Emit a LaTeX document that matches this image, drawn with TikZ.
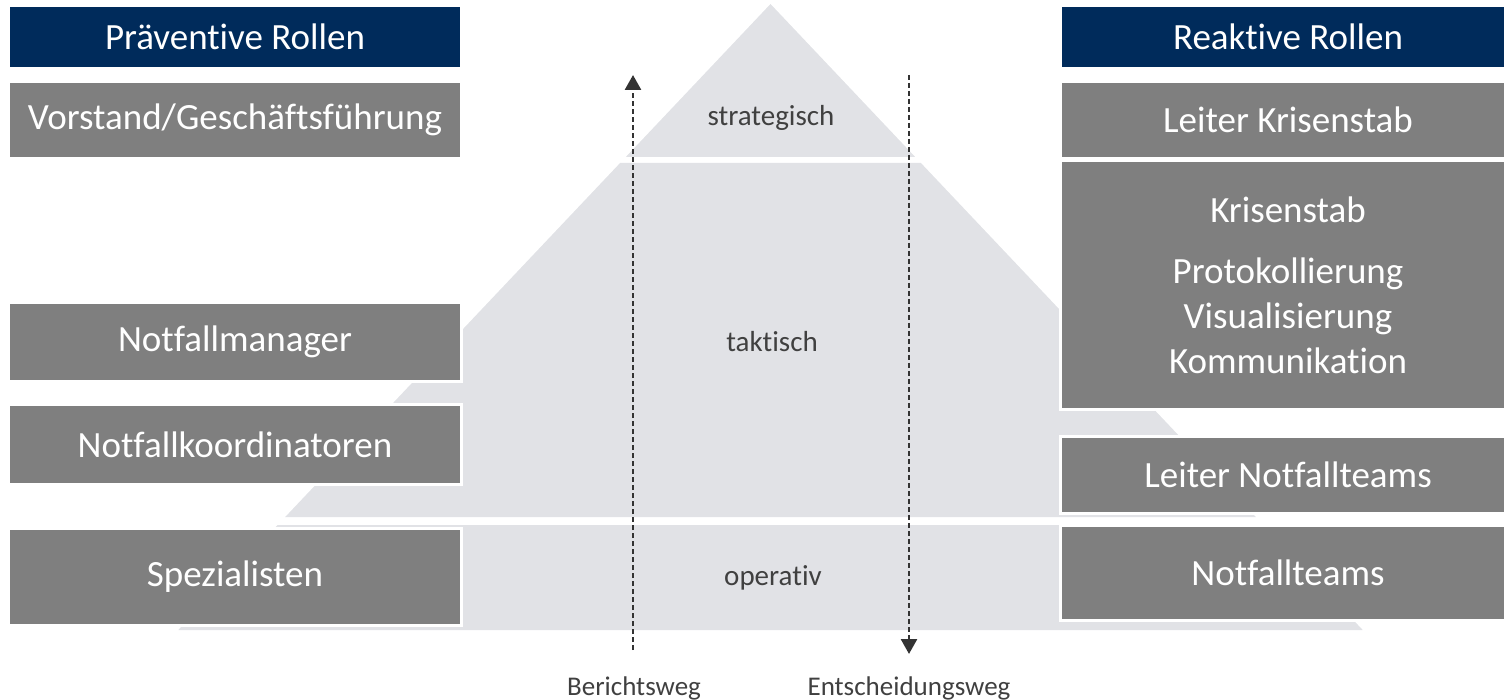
\documentclass[tikz,border=0pt]{standalone}
\usepackage{fontspec}
\setmainfont{Carlito}[Ligatures={NoCommon,NoRare}]
\usetikzlibrary{arrows.meta}
\definecolor{headnavy}{HTML}{002B5B}
\definecolor{boxgray}{HTML}{7F7F7F}
\definecolor{layergray}{HTML}{E1E2E6}
\definecolor{labeldark}{HTML}{404040}
\definecolor{flowdark}{HTML}{333333}

\begin{document}
\begin{tikzpicture}[
  x=1pt,y=-1pt,
  every node/.style={font=\fontsize{37}{45}\selectfont},
  rolehead/.style={fill=headnavy,text=white,draw=white,line width=3pt,
    minimum height=63pt,inner sep=0pt},
  rolebox/.style={fill=boxgray,text=white,draw=white,line width=3pt,
    inner sep=0pt,align=center},
  leftcol/.style={minimum width=453pt},
  rightcol/.style={minimum width=455pt},
  layer/.style={fill=layergray},
  lvl/.style={font=\fontsize{29}{34}\selectfont,text=labeldark},
  waylbl/.style={font=\fontsize{27}{32}\selectfont,text=labeldark},
  flow/.style={flowdark,line width=2.6pt,dash pattern=on 5pt off 3pt,
    -{Triangle[length=15pt,width=16pt]}}
]

% ---- canvas ----
\useasboundingbox (0,0) rectangle (1504,700);

% ---- pyramid layers ----
\fill[layer] (770.5,4) -- (915.2,157) -- (625.8,157) -- cycle;
\fill[layer] (620.1,163) -- (920.9,163) -- (1255.8,517) -- (285.2,517) -- cycle;
\fill[layer] (277.6,525) -- (1263.4,525) -- (1362.7,630) -- (178.3,630) -- cycle;

\node[lvl] (strat) at (771,118) {strategisch};
\node[lvl] (takt) at (772,342) {taktisch};
\node[lvl] (oper) at (773,578) {operativ};

% ---- preventive roles (left) ----
\node[rolehead,leftcol] (prevhead) at (235,37) {Präventive Rollen};
\node[rolebox,leftcol,minimum height=77pt] (board) at (235,120) {Vorstand/Geschäftsführung};
\node[rolebox,leftcol,minimum height=79pt] (manager) at (235,342) {Notfallmanager};
\node[rolebox,leftcol,minimum height=80pt] (coord) at (235,444.5) {Notfallkoordinatoren};
\node[rolebox,leftcol,minimum height=97pt] (special) at (235,577) {Spezialisten};

% ---- reactive roles (right) ----
\node[rolehead,rightcol] (reacthead) at (1288,37) {Reaktive Rollen};
\node[rolebox,rightcol,minimum height=77pt] (crisislead) at (1288,120) {Leiter Krisenstab};
\node[rolebox,rightcol,minimum height=249pt] (crisis) at (1288,285)
  {Krisenstab\\[16pt] Protokollierung\\ Visualisierung\\ Kommunikation};
\node[rolebox,rightcol,minimum height=77pt] (teamlead) at (1288,475) {Leiter Notfallteams};
\node[rolebox,rightcol,minimum height=95pt] (teams) at (1288,573) {Notfallteams};

% ---- reporting and decision paths ----
\coordinate (repfoot) at (633,650);
\coordinate (reptop) at (633,75);
\coordinate (dectop) at (909,75);
\coordinate (decfoot) at (909,654);
\draw[flow] (repfoot) -- (reptop);
\draw[flow] (dectop) -- (decfoot);

\node[waylbl] (replbl) at (634,688) {Berichtsweg};
\node[waylbl] (declbl) at (909,688) {Entscheidungsweg};

\end{tikzpicture}
\end{document}
